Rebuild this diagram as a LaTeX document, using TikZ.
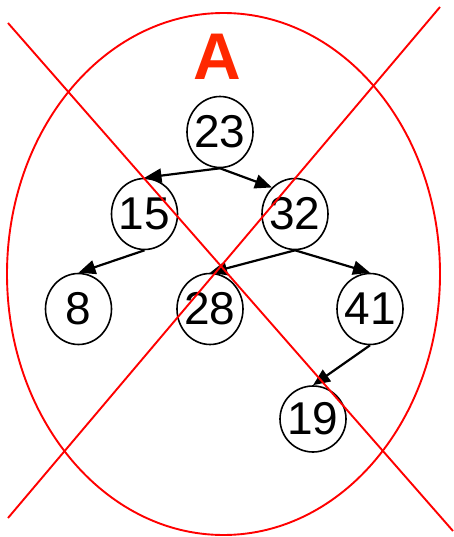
\documentclass[tikz,border=0pt]{standalone}
\usepackage{fontspec}
\setmainfont{Liberation Sans}
\usetikzlibrary{arrows.meta,shapes.geometric}
\definecolor{titlered}{RGB}{255,40,0}
\tikzset{
  treenode/.style={draw=black, line width=1.6pt, ellipse, minimum width=66pt, minimum height=71pt, inner xsep=-4pt, inner ysep=0pt, font=\fontsize{46}{46}\selectfont},
  treeedge/.style={draw=black, line width=2.2pt, -{Triangle[length=17pt,width=14pt]}},
  cross/.style={draw=red, line width=1.9pt},
}
\begin{document}
\begin{tikzpicture}[x=1pt,y=-1pt]
\useasboundingbox (0,0) rectangle (454,537);
\node[font=\bfseries\fontsize{66}{66}\selectfont, text=titlered] (title) at (217,57) {A};
\node[treenode] (n23) at (220,132) {23};
\node[treenode] (n15) at (144.5,214) {15};
\node[treenode] (n32) at (295,214) {32};
\node[treenode] (n8) at (78.5,309) {8};
\node[treenode] (n28) at (210,309) {28};
\node[treenode] (n41) at (370,309) {41};
\node[treenode, minimum height=66pt] (n19) at (313,419) {19};
\draw[treeedge] (n23.south) -- (n15.north);
\draw[treeedge] (n23.south) -- (n32.131);
\draw[treeedge] (n15.south) -- (n8.north);
\draw[treeedge] (n32.south) -- (n28.north);
\draw[treeedge] (n32.south) -- (n41.north);
\draw[treeedge] (n41.south) -- (n19.north);
\coordinate (c) at (223.5,274);
\draw[cross] (c) ellipse [x radius=216.5, y radius=261];
\coordinate (a1) at (8,23);
\coordinate (a2) at (453,531);
\coordinate (b1) at (440,7);
\coordinate (b2) at (8,518);
\draw[cross] (a1) -- (a2);
\draw[cross] (b1) -- (b2);
\end{tikzpicture}
\end{document}
